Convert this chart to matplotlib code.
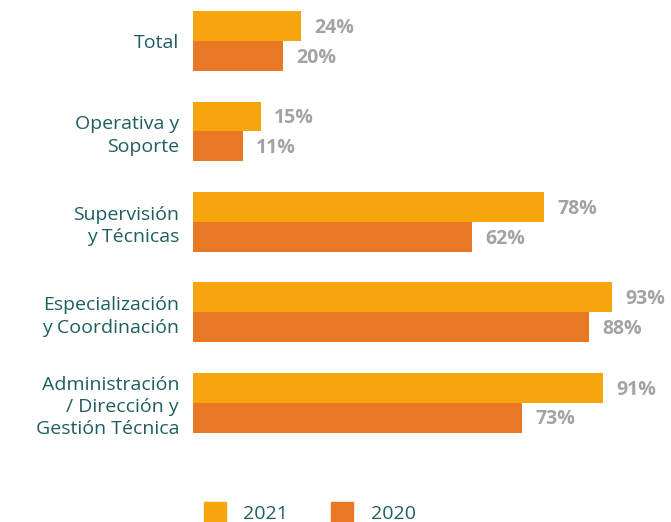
import numpy as np
import matplotlib.pyplot as plt
import matplotlib.patches as mpatches

categories = ['Total', 'Operativa y\nSoporte', 'Supervisión\ny Técnicas',
              'Especialización\ny Coordinación', 'Administración\n/ Dirección y\nGestión Técnica']
values_2021 = [24, 15, 78, 93, 91]
values_2020 = [20, 11, 62, 88, 73]
series_labels = ['2021', '2020']

c2021 = '#F6A50C'
c2020 = '#E87824'
teal = '#1E5E62'
grey = '#A3A3A3'

plt.rcParams['font.family'] = ['Open Sans', 'DejaVu Sans']

fig = plt.figure(figsize=(6.71, 5.22), dpi=100)
ax = fig.add_axes([193 / 671, 1 - 457 / 522, 450 / 671, 456.7 / 522])

y = np.arange(len(categories))
h = 0.33
ax.barh(y - h / 2, values_2021, height=h, color=c2021)
ax.barh(y + h / 2, values_2020, height=h, color=c2020)

# value labels, slightly below bar centre like the original
for yi, v in zip(y, values_2021):
    ax.text(v + 3.0, yi - h / 2 + 0.02, f'{v}%', va='center', ha='left',
            color=grey, fontsize=14, fontweight='bold')
for yi, v in zip(y, values_2020):
    ax.text(v + 3.0, yi + h / 2 + 0.02, f'{v}%', va='center', ha='left',
            color=grey, fontsize=14, fontweight='bold')

ax.set_xlim(0, 100)
ax.set_ylim(4.6, -0.45)
ax.set_yticks(y)
ax.set_yticklabels(categories, color=teal, fontsize=14, linespacing=1.3)
ax.tick_params(axis='y', length=0, pad=10)
ax.set_xticks([])
for s in ax.spines.values():
    s.set_visible(False)

handles = [mpatches.Patch(color=c2021), mpatches.Patch(color=c2020)]
leg = fig.legend(handles, series_labels, loc='lower left', bbox_to_anchor=(186 / 671, -0.035),
                 ncol=2, frameon=False, fontsize=14, handlelength=1.15, handleheight=1.2,
                 handletextpad=0.9, columnspacing=2.2)
for t in leg.get_texts():
    t.set_color(teal)

fig.savefig('out.png', dpi=100)
